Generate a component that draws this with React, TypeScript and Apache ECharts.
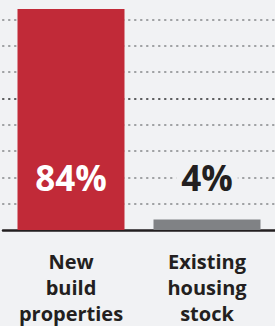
import React, { useEffect, useRef } from "react";
import * as echarts from "echarts";

const categories = ["New build properties", "Existing housing stock"];
const values = [84, 4];
const barColors = ["#c12a38", "#808285"];
const labelColors = ["#ffffff", "#231f20"];
const yTicks = [10, 20, 30, 40, 50, 60, 70, 80];
const LABEL_LEVEL = 20;

export default function App() {
  const ref = useRef<HTMLDivElement>(null);
  useEffect(() => {
    document.body.style.margin = "0";
    document.body.style.background = "#f1f2f4";
    const chart = echarts.init(ref.current!, null, { renderer: "svg" });
    chart.setOption({
      animation: false,
      backgroundColor: "#f1f2f4",
      grid: { left: 3, right: 0, top: 9, bottom: 94 },
      xAxis: {
        type: "category",
        data: categories,
        axisLine: { show: true, lineStyle: { color: "#231f20", width: 2.5 } },
        axisTick: { show: false },
        axisLabel: {
          interval: 0,
          margin: 18,
          formatter: (v: string) => v.split(" ").join("\n"),
          fontFamily: "Open Sans",
          fontWeight: 700,
          fontSize: 20,
          lineHeight: 26,
          color: "#231f20",
        },
      },
      yAxis: {
        type: "value",
        min: 0,
        max: 84,
        interval: 10,
        axisLine: { show: false },
        axisTick: { show: false },
        axisLabel: { show: false },
        splitLine: { show: false },
      },
      series: [
        {
          type: "bar",
          barWidth: 107,
          z: 5,
          data: values.map((v, i) => ({ value: v, itemStyle: { color: barColors[i] } })),
        },
        {
          type: "line",
          data: [],
          z: 1,
          silent: true,
          markLine: {
            silent: true,
            symbol: "none",
            z: 1,
            label: { show: false },
            data: yTicks.map((t) => ({
              yAxis: t,
              lineStyle: {
                color: t === 50 ? "#58595b" : "#9d9fa2",
                width: 2.2,
                cap: "round",
                type: [0.5, 5.5],
              },
            })),
          },
        },
        {
          type: "scatter",
          symbolSize: 0,
          z: 10,
          silent: true,
          itemStyle: { opacity: 1 },
          data: values.map((v, i) => ({
            value: [i, LABEL_LEVEL],
            label: {
              show: true,
              position: "inside",
              formatter: () => `${v}%`,
              color: labelColors[i],
              opacity: 1,
              fontFamily: "Open Sans",
              fontWeight: 700,
              fontSize: 35,
              backgroundColor: i === 0 ? "transparent" : "#f1f2f4",
              padding: [0, 5],
            },
          })),
        },
      ],
    });
    return () => chart.dispose();
  }, []);
  return <div ref={ref} style={{ width: 275, height: 326 }} />;
}
